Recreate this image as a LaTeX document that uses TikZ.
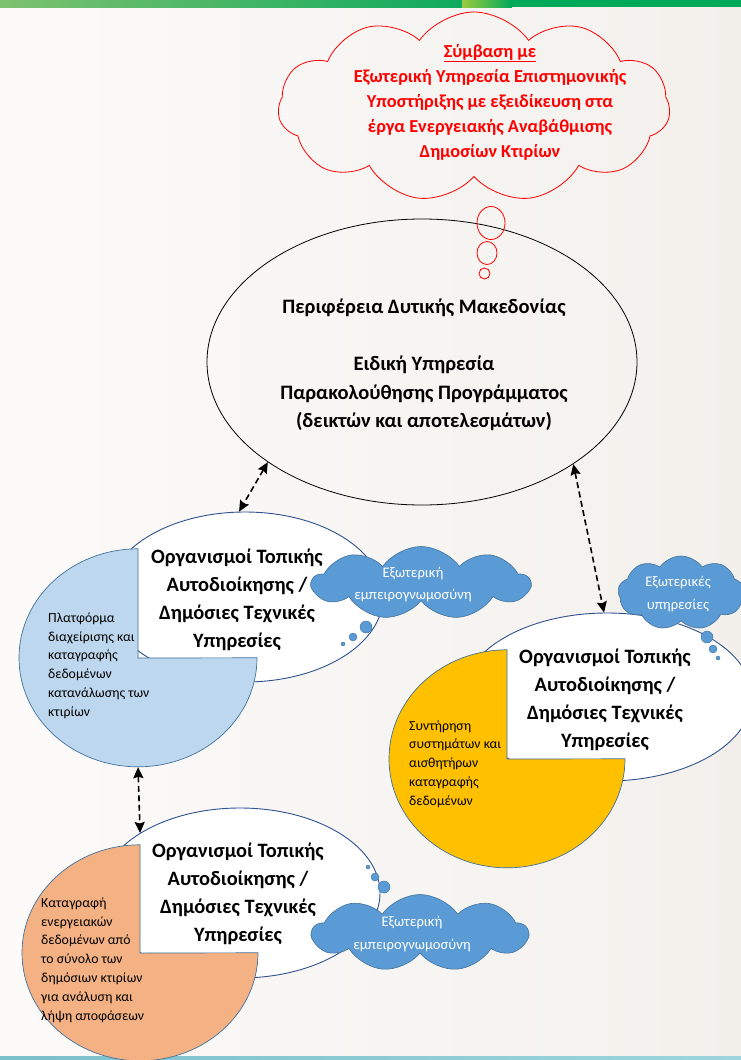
\documentclass[tikz,border=0pt]{standalone}
\usepackage{fontspec}
\setmainfont{Carlito}
\usetikzlibrary{shapes.geometric,shapes.symbols,arrows.meta}
\definecolor{navy}{HTML}{2F528F}
\definecolor{piebd}{HTML}{41719C}
\definecolor{lblue}{HTML}{BDD7EE}
\definecolor{ygold}{HTML}{FFC000}
\definecolor{peach}{HTML}{F4B183}
\definecolor{cblue}{HTML}{5B9BD5}
\definecolor{bgL}{HTML}{FCFBFA}
\definecolor{bgR}{HTML}{F3F0EC}
\definecolor{gA}{HTML}{7DC26F}
\definecolor{gB}{HTML}{0EAA5E}
\definecolor{gC}{HTML}{9BCB3F}
\definecolor{gD}{HTML}{00A859}
\definecolor{tA}{HTML}{7BC1CA}
\definecolor{tB}{HTML}{9CD5DD}
\begin{document}
\begin{tikzpicture}[x=1pt,y=-1pt,
  mainell/.style={ellipse, draw=black, line width=0.8pt, inner sep=0pt},
  orgell/.style={ellipse, draw=navy, line width=0.9pt, fill=white, inner sep=0pt},
  pieguide/.style={ellipse, inner sep=0pt},
  piepath/.style={draw=piebd, line width=0.7pt},
  orgtext/.style={font=\fontsize{20.4}{28}\selectfont\bfseries, align=center, inner sep=0pt},
  maintext/.style={font=\fontsize{20.5}{28.5}\selectfont\bfseries, align=center, inner sep=0pt},
  redtext/.style={font=\fontsize{18.3}{25}\selectfont\bfseries, text=red, align=center, inner sep=0pt},
  pietext/.style={font=\fontsize{13.8}{18.8}\selectfont, align=left, anchor=west, inner sep=0pt},
  redcloud/.style={cloud, cloud puffs=11, cloud puff arc=110, cloud ignores aspect, draw=red, line width=0.8pt, inner sep=0pt},
  bluecloud/.style={cloud, cloud puffs=9, cloud puff arc=110, cloud ignores aspect, fill=cblue, draw=piebd, line width=0.6pt, inner sep=0pt},
  cloudtext/.style={font=\fontsize{14.6}{22.5}\selectfont, text=white, align=center, inner sep=0pt},
  redbub/.style={draw=red, line width=0.8pt},
  bluebub/.style={fill=cblue, draw=piebd, line width=0.4pt},
  darrow/.style={line width=1.6pt, dash pattern=on 6pt off 3.5pt, {Stealth[length=11pt,width=10pt,inset=1.5pt]}-{Stealth[length=11pt,width=10pt,inset=1.5pt]}}
]
\useasboundingbox (0,0) rectangle (741,1060);
% background
\shade[left color=bgL, right color=bgR] (0,0) rectangle (741,1060);

% red thought cloud
\node[redcloud, minimum width=392pt, minimum height=190pt] (rc) at (474,107) {};
\node[redtext] (rctext) at (490,102) {\underline{Σύμβαση με}\\Εξωτερική Υπηρεσία Επιστημονικής\\Υποστήριξης με εξειδίκευση στα\\έργα Ενεργειακής Αναβάθμισης\\Δημοσίων Κτιρίων};

% top bar
\shade[left color=gA, right color=gB] (0,0) rectangle (462,7);
\shade[left color=gC, right color=gD] (462,0) rectangle (512,7);
\fill[gD] (512,0) rectangle (741,7);
% bottom bar
\shade[left color=tA, right color=tB] (0,1056.5) rectangle (741,1060);

% main ellipse
\node[mainell, minimum width=430pt, minimum height=286pt] (main) at (422,362) {};
\node[maintext] (maintx) at (424,365) {Περιφέρεια Δυτικής Μακεδονίας\\[28.5pt]Ειδική Υπηρεσία\\Παρακολούθησης Προγράμματος\\(δεικτών και αποτελεσμάτων)};
% red bubbles
\draw[redbub] (491,223) ellipse[x radius=14, y radius=16.5];
\draw[redbub] (487,253) ellipse[x radius=10, y radius=11.5];
\draw[redbub] (484.5,273.5) ellipse[x radius=5.5, y radius=5.5];

% organisation ellipses
\node[orgell, minimum width=276pt, minimum height=170pt] (org1) at (245,597) {};
\node[orgell, minimum width=290pt, minimum height=168pt] (org2) at (607,697) {};
\node[orgell, minimum width=280pt, minimum height=170pt] (org3) at (240,893) {};

% pies
\node[pieguide, minimum width=238pt, minimum height=218pt] (pie1) at (138,658) {};
\node[pieguide, minimum width=236pt, minimum height=218pt] (pie2) at (507,759) {};
\node[pieguide, minimum width=236pt, minimum height=216pt] (pie3) at (140,953) {};
\draw[piepath, fill=lblue] (pie1.center) -- (pie1.north) arc[start angle=270, end angle=0, x radius=119, y radius=109] -- cycle;
\draw[piepath, fill=ygold] (pie2.center) -- (pie2.north) arc[start angle=270, end angle=0, x radius=118, y radius=109] -- cycle;
\draw[piepath, fill=peach] (pie3.center) -- (pie3.north) arc[start angle=270, end angle=0, x radius=118, y radius=108] -- cycle;

% organisation texts
\node[orgtext] (org1tx) at (237,599.5) {Οργανισμοί Τοπικής\\Αυτοδιοίκησης /\\Δημόσιες Τεχνικές\\Υπηρεσίες};
\node[orgtext] (org2tx) at (605,700) {Οργανισμοί Τοπικής\\Αυτοδιοίκησης /\\Δημόσιες Τεχνικές\\Υπηρεσίες};
\node[orgtext] (org3tx) at (238,893.5) {Οργανισμοί Τοπικής\\Αυτοδιοίκησης /\\Δημόσιες Τεχνικές\\Υπηρεσίες};

% pie texts
\node[pietext] (p1tx) at (48,665.5) {Πλατφόρμα\\διαχείρισης και\\καταγραφής\\δεδομένων\\κατανάλωσης των\\κτιρίων};
\node[pietext] (p2tx) at (409,764) {Συντήρηση\\συστημάτων και\\αισθητήρων\\καταγραφής\\δεδομένων};
\node[pietext] (p3tx) at (41,960) {Καταγραφή\\ενεργειακών\\δεδομένων από\\το σύνολο των\\δημόσιων κτιρίων\\για ανάλυση και\\λήψη αποφάσεων};

% blue clouds
\node[bluecloud, minimum width=217pt, minimum height=73pt] (bc1) at (421,583) {};
\node[cloudtext] (bc1tx) at (413,584.5) {Εξωτερική\\εμπειρογνωμοσύνη};
\draw[bluebub] (366,627) circle[radius=6];
\draw[bluebub] (353,637) circle[radius=4];
\draw[bluebub] (343,644) circle[radius=2];

\node[bluecloud, minimum width=126pt, minimum height=74pt] (bc2) at (681,593) {};
\node[cloudtext] (bc2tx) at (678,594) {Εξωτερικές\\υπηρεσίες};
\draw[bluebub] (707,637) circle[radius=6];
\draw[bluebub] (713,649) circle[radius=4];
\draw[bluebub] (718,658) circle[radius=2];

\node[bluecloud, minimum width=215pt, minimum height=77pt] (bc3) at (420,933) {};
\node[cloudtext] (bc3tx) at (412,934) {Εξωτερική\\εμπειρογνωμοσύνη};
\draw[bluebub] (384,887) circle[radius=6];
\draw[bluebub] (375,877) circle[radius=4];
\draw[bluebub] (368,867) circle[radius=2];

% dashed double arrows
\draw[darrow] (main.213.6) -- (org1.94.7);
\draw[darrow] (main.326.6) -- (org2.92.7);
\draw[darrow] (pie1.south) -- (org3.149.4);
\end{tikzpicture}
\end{document}
